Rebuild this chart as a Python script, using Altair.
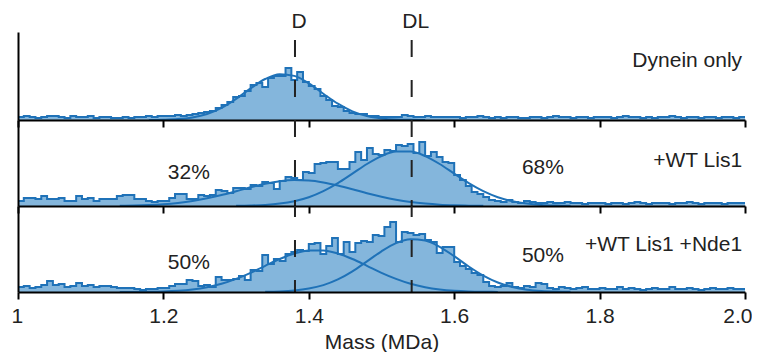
import altair as alt
import pandas as pd

# ---------------- data ----------------
BIN_START = 1.0
BIN_WIDTH = 0.008

tick_values = [1.0, 1.2, 1.4, 1.6, 1.8, 2.0]
marker_labels = ["D", "DL"]
marker_mass = [1.381, 1.5415]

panel_names = ["Dynein only", "+WT Lis1", "+WT Lis1 +Nde1"]
d_share = ["32%", "50%"]
dl_share = ["68%", "50%"]

# histogram heights (125 bins of 0.008 MDa from 1.0 to 2.0)
hist_dynein = [
    3, 4, 3, 2, 3, 4, 4, 3, 2, 4, 3, 3, 4, 2, 3, 3, 2, 2, 3, 2, 3, 3, 4, 3, 4,
    4, 4, 5, 4, 5, 6, 7, 8, 9, 12, 15, 18, 23, 24, 29, 35, 37, 33, 42, 44, 44, 52, 40, 48, 38,
    34, 31, 24, 20, 14, 13, 9, 7, 6, 6, 4, 4, 3, 3, 3, 3, 5, 4, 3, 3, 4, 3, 3, 3, 3,
    3, 2, 3, 3, 4, 3, 2, 3, 2, 3, 3, 2, 2, 3, 3, 2, 3, 4, 3, 3, 2, 3, 3, 2, 3,
    3, 3, 2, 3, 4, 3, 3, 2, 3, 2, 3, 3, 4, 3, 2, 3, 3, 2, 3, 3, 2, 3, 3, 2, 3,
]
hist_lis1 = [
    5, 8, 8, 7, 10, 7, 7, 8, 5, 5, 10, 7, 8, 5, 7, 7, 7, 10, 11, 11, 7, 7, 5, 4, 5,
    5, 8, 12, 12, 7, 7, 11, 10, 11, 16, 15, 13, 18, 18, 17, 21, 20, 24, 23, 17, 25, 29, 28, 26, 34,
    33, 42, 43, 44, 44, 37, 37, 44, 54, 46, 58, 52, 51, 56, 55, 61, 60, 62, 53, 64, 50, 54, 49, 44, 43,
    31, 26, 20, 14, 12, 9, 6, 5, 4, 6, 4, 3, 5, 4, 3, 3, 4, 3, 3, 4, 3, 3, 2, 3, 3,
    3, 2, 3, 3, 2, 3, 4, 3, 2, 3, 3, 3, 2, 3, 3, 4, 3, 2, 3, 3, 3, 2, 3, 3, 3,
]
hist_nde1 = [
    5, 6, 4, 5, 7, 11, 7, 8, 5, 6, 9, 6, 7, 5, 6, 6, 5, 4, 4, 4, 3, 2, 3, 3, 4,
    4, 6, 8, 8, 12, 11, 6, 7, 5, 15, 12, 12, 13, 16, 12, 22, 21, 37, 28, 33, 31, 38, 40, 42, 41,
    48, 49, 38, 46, 54, 38, 50, 40, 49, 51, 50, 57, 56, 65, 70, 50, 60, 59, 57, 58, 52, 50, 39, 45, 45,
    30, 26, 23, 19, 17, 10, 6, 5, 6, 9, 5, 4, 6, 5, 9, 8, 4, 3, 5, 4, 3, 4, 5, 3, 3,
    4, 3, 3, 5, 3, 4, 3, 2, 3, 4, 3, 3, 5, 3, 3, 4, 3, 2, 3, 4, 3, 3, 4, 3, 3,
]

# fitted gaussian curves
fit_dynein_mass = [1.18, 1.20, 1.22, 1.24, 1.26, 1.28, 1.30, 1.32, 1.34, 1.36,
                   1.38, 1.40, 1.42, 1.44, 1.46, 1.48, 1.50, 1.52, 1.54, 1.56]
fit_dynein = [0.1, 0.3, 0.9, 2.6, 6.0, 12.1, 21.1, 31.6, 41.0, 45.8,
              44.1, 36.7, 26.3, 16.3, 8.7, 4.0, 1.6, 0.5, 0.2, 0.05]

fit_lis1_d_mass = [1.14, 1.16, 1.18, 1.20, 1.22, 1.24, 1.26, 1.28, 1.30, 1.32, 1.34, 1.36, 1.38,
                   1.40, 1.42, 1.44, 1.46, 1.48, 1.50, 1.52, 1.54, 1.56, 1.58, 1.60, 1.62, 1.64]
fit_lis1_d = [0.24, 0.5, 1.0, 1.8, 3.1, 5.0, 7.7, 11.0, 14.8, 18.7, 22.2, 24.8, 25.9,
              25.5, 23.6, 20.5, 16.8, 12.8, 9.3, 6.3, 4.0, 2.4, 1.3, 0.7, 0.35, 0.15]
fit_lis1_dl_mass = [1.30, 1.32, 1.34, 1.36, 1.38, 1.40, 1.42, 1.44, 1.46, 1.48, 1.50, 1.52,
                    1.54, 1.56, 1.58, 1.60, 1.62, 1.64, 1.66, 1.68, 1.70, 1.72, 1.74, 1.76]
fit_lis1_dl = [0.2, 0.5, 1.1, 2.4, 4.8, 8.8, 14.9, 22.9, 32.4, 42.0, 49.9, 54.4,
               54.4, 49.9, 42.0, 32.4, 22.9, 14.9, 8.8, 4.8, 2.4, 1.1, 0.5, 0.2]

fit_nde1_d_mass = [1.14, 1.16, 1.18, 1.20, 1.22, 1.24, 1.26, 1.28, 1.30, 1.32, 1.34, 1.36, 1.38, 1.40,
                   1.42, 1.44, 1.46, 1.48, 1.50, 1.52, 1.54, 1.56, 1.58, 1.60, 1.62, 1.64, 1.66]
fit_nde1_d = [0.04, 0.1, 0.26, 0.6, 1.3, 2.6, 4.8, 8.2, 13.1, 19.2, 26.2, 33.0, 38.5, 41.6,
              41.6, 38.5, 33.0, 26.2, 19.2, 13.1, 8.2, 4.8, 2.6, 1.3, 0.6, 0.26, 0.1]
fit_nde1_dl_mass = [1.34, 1.36, 1.38, 1.40, 1.42, 1.44, 1.46, 1.48, 1.50, 1.52, 1.54,
                    1.56, 1.58, 1.60, 1.62, 1.64, 1.66, 1.68, 1.70, 1.72, 1.74, 1.76]
fit_nde1_dl = [0.2, 0.6, 1.5, 3.4, 6.9, 12.6, 20.7, 30.6, 40.7, 48.9, 52.8,
               51.5, 45.2, 35.8, 25.5, 16.4, 9.5, 5.0, 2.3, 1.0, 0.4, 0.15]

# ---------------- styling ----------------
LINE = "#1f72b8"
FILL = "#84b6dc"
INK = "#222222"
FONT = "Liberation Sans"
FS = 21
W = 727


def hist_frame(counts):
    edges = [round(BIN_START + BIN_WIDTH * i, 4) for i in range(len(counts) + 1)]
    return pd.DataFrame({"mass": edges, "count": counts + [counts[-1]]})


def fit_frame(curves):
    rows = []
    for name, (xs, ys) in curves.items():
        rows += [{"mass": m, "count": c, "component": name} for m, c in zip(xs, ys)]
    return pd.DataFrame(rows)


markers = pd.DataFrame({"mass": marker_mass, "label": marker_labels})


def panel(counts, curves, h, right_text, center_texts, bottom=False,
          rule_top=0, dash_offset=0, head=False):
    if bottom:
        x_axis = alt.Axis(values=tick_values, grid=False, domainColor="black", domainWidth=2,
                          tickColor="black", tickWidth=2, tickSize=7, zindex=1,
                          labelExpr="datum.value == 1 ? '1' : format(datum.value, '.1f')",
                          labelFlush=True, labelFlushOffset=7, labelPadding=6,
                          title="Mass (MDa)", titlePadding=5)
    else:
        x_axis = alt.Axis(values=tick_values, grid=False, domainColor="black", domainWidth=2,
                          tickColor="black", tickWidth=2, tickSize=7, zindex=1,
                          labels=False, title=None)
    y_axis = alt.Axis(grid=False, domainColor="black", domainWidth=2, ticks=False,
                      labels=False, title=None, zindex=1)
    x_enc = alt.X("mass:Q", scale=alt.Scale(domain=[1, 2], nice=False, zero=False), axis=x_axis)
    y_enc = alt.Y("count:Q", scale=alt.Scale(domain=[0, h], nice=False), axis=y_axis)

    hdf = hist_frame(counts)
    area = alt.Chart(hdf).mark_area(interpolate="step-after", color=FILL).encode(x=x_enc, y=y_enc)
    fits = alt.Chart(fit_frame(curves)).mark_line(
        interpolate="monotone", color=LINE, strokeWidth=2
    ).encode(x=x_enc, y=y_enc, detail="component:N")
    step = alt.Chart(hdf).mark_line(interpolate="step-after", color=LINE, strokeWidth=2).encode(
        x=x_enc, y=y_enc)
    rules = alt.Chart(markers).mark_rule(
        color=INK, strokeWidth=2, strokeDash=[17, 23], strokeDashOffset=dash_offset
    ).encode(x=x_enc, y=alt.value(rule_top), y2=alt.value(h))

    rt = pd.DataFrame({"mass": [right_text[1]], "count": [right_text[2]], "label": [right_text[0]]})
    rtext = alt.Chart(rt).mark_text(font=FONT, fontSize=FS, color=INK, align="right",
                                    baseline="middle").encode(x=x_enc, y=y_enc, text="label:N")
    layers = [area, fits, step, rules, rtext]
    if center_texts:
        ct = pd.DataFrame({"mass": [c[1] for c in center_texts],
                           "count": [c[2] for c in center_texts],
                           "label": [c[0] for c in center_texts]})
        layers.append(alt.Chart(ct).mark_text(font=FONT, fontSize=FS, color=INK, align="center",
                                              baseline="middle").encode(
            x=x_enc, y=y_enc, text="label:N"))
    if head:
        layers.append(alt.Chart(markers).mark_text(font=FONT, fontSize=FS, color=INK,
                                                   align="center", baseline="middle", dx=4).encode(
            x=x_enc, y=alt.value(-10), text="label:N"))
    return alt.layer(*layers).properties(width=W, height=h)


p1 = panel(hist_dynein, {"fit": (fit_dynein_mass, fit_dynein)}, 88,
           (panel_names[0], 1.996, 59), [], rule_top=8, head=True)
p2 = panel(hist_lis1, {"d": (fit_lis1_d_mass, fit_lis1_d), "dl": (fit_lis1_dl_mass, fit_lis1_dl)}, 86,
           (panel_names[1], 1.996, 45), [(d_share[0], 1.235, 33), (dl_share[0], 1.722, 38)])
p3 = panel(hist_nde1, {"d": (fit_nde1_d_mass, fit_nde1_d), "dl": (fit_nde1_dl_mass, fit_nde1_dl)}, 86,
           (panel_names[2], 1.996, 47), [(d_share[1], 1.235, 29), (dl_share[1], 1.722, 36)],
           bottom=True, dash_offset=6)

chart = alt.vconcat(p1, p2, p3, spacing=0, bounds="flush").properties(
    padding={"left": 3, "top": 3, "right": 0, "bottom": 0}
).configure_view(strokeOpacity=0).configure_axis(
    labelFont=FONT, titleFont=FONT, labelFontSize=FS, titleFontSize=FS,
    labelColor=INK, titleColor=INK, titleFontWeight="normal"
)

chart.save("out.html", embed_options={"renderer": "svg", "actions": False})
